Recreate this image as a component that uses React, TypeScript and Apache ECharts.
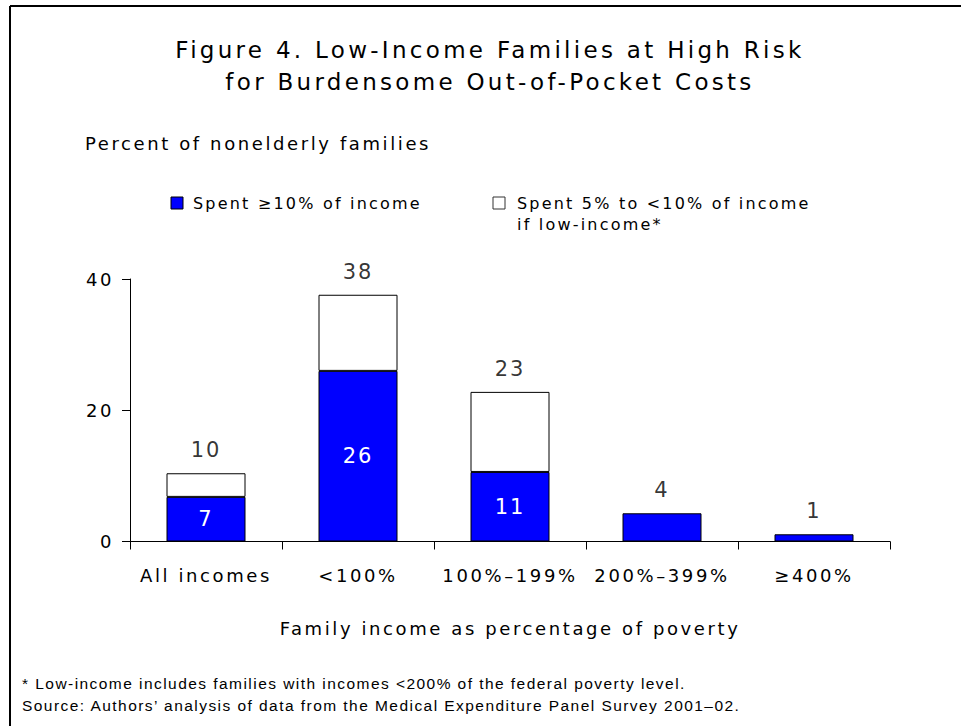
import React, { useEffect, useRef } from "react";
import * as echarts from "echarts";

const categories = ["All incomes", "<100%", "100%–199%", "200%–399%", "≥400%"];
const spent10 = [6.8, 26.0, 10.6, 4.3, 1.1];
const spent5to10 = [3.6, 11.6, 12.2, 0, 0];
const yTicks = [0, 20, 40];
const legendNames = ["Spent ≥10% of income", "Spent 5% to <10% of income\nif low-income*"];
const titleLines = ["Figure 4. Low-Income Families at High Risk", "for Burdensome Out-of-Pocket Costs"];
const footnotes = [
  "* Low-income includes families with incomes <200% of the federal poverty level.",
  "Source: Authors’ analysis of data from the Medical Expenditure Panel Survey 2001–02.",
];

const FONT = "DejaVu Sans";
// letter spacing (px) for each font size used, to match the wide lettering of the original
const SPACING: Record<string, number> = {
  "18px": 2.6,
  "21px": 2,
  "16px": 2.2,
  "23px": 3.3,
  "15.5px": 1.45,
};

export default function App() {
  const ref = useRef<HTMLDivElement>(null);
  useEffect(() => {
    if (!ref.current) return;
    const el = ref.current;
    const chart = echarts.init(el, null, { renderer: "svg" });
    const totals = spent10.map((v, i) => +(v + spent5to10[i]).toFixed(2));
    chart.setOption({
      animation: false,
      backgroundColor: "#ffffff",
      textStyle: { fontFamily: FONT, color: "#000" },
      grid: { left: 130, right: 71, top: 279, bottom: 184.5, containLabel: false },
      xAxis: {
        type: "category",
        data: categories,
        name: "Family income as percentage of poverty",
        nameLocation: "middle",
        nameGap: 78,
        nameTextStyle: { fontFamily: FONT, fontSize: 18, color: "#000" },
        axisLine: { show: true, lineStyle: { color: "#000", width: 1 } },
        axisTick: { show: true, length: 8, lineStyle: { color: "#000" }, alignWithLabel: false },
        axisLabel: { fontFamily: FONT, fontSize: 18, color: "#000", margin: 25, interval: 0 },
        splitLine: { show: false },
      },
      yAxis: {
        type: "value",
        min: yTicks[0],
        max: yTicks[yTicks.length - 1],
        interval: 20,
        axisLine: { show: true, lineStyle: { color: "#000", width: 1 } },
        axisTick: { show: true, length: 8, lineStyle: { color: "#000" } },
        axisLabel: { fontFamily: FONT, fontSize: 18, color: "#000", margin: 16 },
        splitLine: { show: false },
      },
      series: [
        {
          name: legendNames[0],
          type: "bar",
          stack: "total",
          data: spent10,
          barWidth: 79,
          itemStyle: { color: "#0000ff", borderColor: "#000", borderWidth: 1 },
          label: {
            show: true,
            position: "inside",
            fontFamily: FONT,
            fontSize: 21,
            color: "#fff",
            formatter: (p: any) => (p.dataIndex < 3 ? String(Math.round(p.value)) : ""),
          },
        },
        {
          name: legendNames[1],
          type: "bar",
          stack: "total",
          data: spent5to10.map((v) =>
            v > 0 ? v : { value: v, itemStyle: { borderWidth: 0, color: "transparent" } }
          ),
          barWidth: 79,
          itemStyle: { color: "#ffffff", borderColor: "#000", borderWidth: 1 },
        },
        {
          type: "scatter",
          data: totals,
          symbolSize: 1,
          itemStyle: { color: "transparent" },
          label: {
            show: true,
            position: "top",
            distance: 12,
            fontFamily: FONT,
            fontSize: 21,
            color: "#000",
            formatter: (p: any) => String(Math.round(p.value)),
          },
        },
      ],
      graphic: [
        { type: "line", shape: { x1: 10, y1: 6, x2: 961, y2: 6 }, style: { stroke: "#000", lineWidth: 2 } },
        { type: "line", shape: { x1: 10, y1: 6, x2: 10, y2: 726 }, style: { stroke: "#000", lineWidth: 2 } },
        {
          type: "text", x: 490, y: 50,
          style: { text: titleLines[0], font: `23px "${FONT}"`, fill: "#000", textAlign: "center", textVerticalAlign: "middle" },
        },
        {
          type: "text", x: 490, y: 82,
          style: { text: titleLines[1], font: `23px "${FONT}"`, fill: "#000", textAlign: "center", textVerticalAlign: "middle" },
        },
        {
          type: "text", x: 85, y: 143,
          style: { text: "Percent of nonelderly families", font: `18px "${FONT}"`, fill: "#000", textAlign: "left", textVerticalAlign: "middle" },
        },
        { type: "rect", shape: { x: 171, y: 197, width: 12, height: 12 }, style: { fill: "#0000ff", stroke: "#000", lineWidth: 1 } },
        {
          type: "text", x: 193, y: 203,
          style: { text: legendNames[0], font: `16px "${FONT}"`, fill: "#000", textAlign: "left", textVerticalAlign: "middle" },
        },
        { type: "rect", shape: { x: 493, y: 197, width: 12, height: 12 }, style: { fill: "#fff", stroke: "#333", lineWidth: 1 } },
        {
          type: "text", x: 517, y: 193,
          style: { text: legendNames[1], font: `16px "${FONT}"`, fill: "#000", textAlign: "left", textVerticalAlign: "top", lineHeight: 21 },
        },
        {
          type: "text", x: 22, y: 683,
          style: { text: footnotes[0], font: `15.5px "Liberation Sans"`, fill: "#000", textAlign: "left", textVerticalAlign: "middle" },
        },
        {
          type: "text", x: 22, y: 705,
          style: { text: footnotes[1], font: `15.5px "Liberation Sans"`, fill: "#000", textAlign: "left", textVerticalAlign: "middle" },
        },
      ],
    });
    const applySpacing = () => {
      el.querySelectorAll("text").forEach((t) => {
        const fs = getComputedStyle(t).fontSize;
        const s = SPACING[fs];
        if (s != null) (t as SVGTextElement).style.letterSpacing = s + "px";
      });
    };
    chart.on("rendered", applySpacing);
    applySpacing();
    const raf = requestAnimationFrame(applySpacing);
    return () => {
      cancelAnimationFrame(raf);
      chart.dispose();
    };
  }, []);
  return <div ref={ref} style={{ position: "absolute", left: 0, top: 0, width: 961, height: 726 }} />;
}
